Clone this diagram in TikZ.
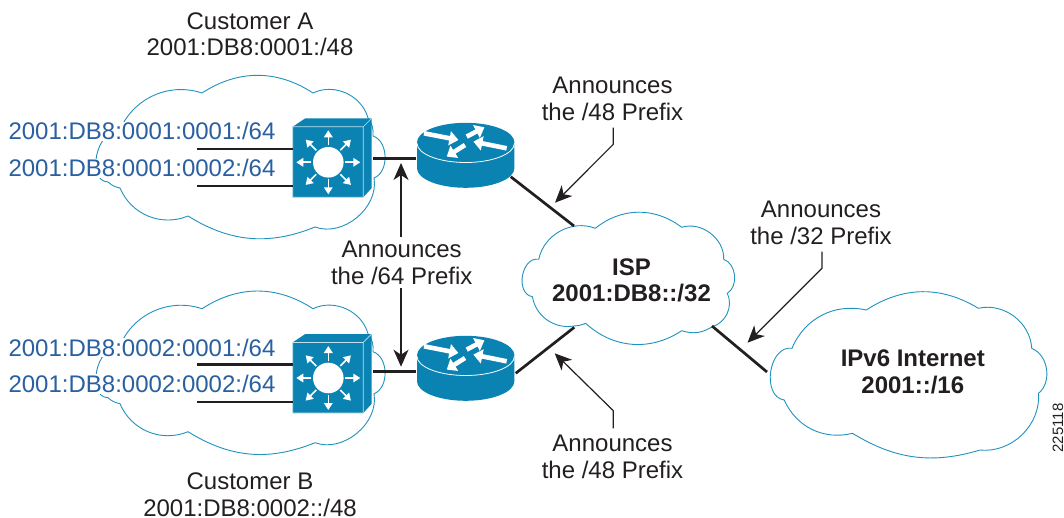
\documentclass[tikz,border=0pt]{standalone}
\usepackage{fontspec}
\setmainfont{Liberation Sans}
\usetikzlibrary{arrows.meta}
\definecolor{ciscoblue}{HTML}{0A83B3}
\definecolor{cloudline}{HTML}{1F93BE}
\definecolor{inkblack}{HTML}{231F20}
\definecolor{netblue}{HTML}{2A5FA0}
\newcommand{\cloudA}{(202,93) to[bend left=33] (313,93) to[bend left=50] (368,118) to[bend left=20] (373,136)
  to[bend left=70] (374,178) to[bend left=60] (315,227) to[bend left=27] (188,216) to[bend left=45] (120,188)
  to[bend left=15] (108,182) to[bend left=100,looseness=1.2] (118,135) to[bend left=45] (202,93) -- cycle}
\tikzset{
  x=1pt,y=-1pt,
  cloudshape/.style={draw=cloudline,fill=white,line width=0.9pt,line join=round},
  thickline/.style={draw=inkblack,line width=2.7pt},
  callout/.style={draw=inkblack,line width=1.2pt,-{Stealth[length=17pt,width=15pt,inset=5pt]}},
  label/.style={font=\fontsize{24}{26.7}\selectfont,text=inkblack,align=center,inner sep=0pt,anchor=base},
  boldlabel/.style={label,font=\fontsize{24}{26.7}\selectfont\bfseries},
  netlabel/.style={font=\fontsize{24}{28}\selectfont,text=netblue,fill=white,inner xsep=0pt,inner ysep=1pt,anchor=base},
  swarrow/.style={draw=white,line width=1.6pt,-{Triangle[length=7pt,width=8.5pt]}},
  rtarrow/.style={draw=white,line width=4.6pt,-{Triangle[length=9pt,width=14pt]}},
  switchicon/.pic={
    \fill[ciscoblue] (-35.6,-35.6) -- (-23,-44) -- (43.4,-44) -- (43.4,25.7) -- (35,35) -- (-35.6,35) -- cycle;
    \draw[white!75!ciscoblue,line width=0.7pt,line join=round] (-35.6,35) rectangle (35,-35.6) (35,-35.6) -- (43.4,-44);
    \fill[white] (0,0) circle[radius=15.3];
    \foreach \a in {0,45,...,315}{\draw[swarrow] (\a:17) -- (\a:32);}
  },
  routericon/.pic={
    \fill[ciscoblue] (-48.7,0) arc[start angle=180,end angle=360,x radius=48.7,y radius=19.5]
      -- (48.7,26) arc[start angle=0,end angle=180,x radius=48.7,y radius=19.5] -- cycle;
    \draw[white,line width=0.8pt] (-48.7,1) arc[start angle=180,end angle=0,x radius=48.7,y radius=19.2];
    \draw[rtarrow] (-41.7,-9) -- (-7.3,-2.3);
    \draw[rtarrow] (1,-5.7) -- (18.7,-15);
    \draw[rtarrow] (41,6) -- (7.7,-0.7);
    \draw[rtarrow] (-0.7,2.7) -- (-19,14.3);
  }
}
\begin{document}
\begin{tikzpicture}
\useasboundingbox (0,0) rectangle (1064,518);
% clouds
\draw[cloudshape] \cloudA;
\begin{scope}[shift={(0,215.7)}]
\draw[cloudshape] \cloudA;
\end{scope}
\draw[cloudshape] (595.3,228.3) to[bend left=38] (681.7,227.3) to[bend left=55] (723.7,259.3) to[bend left=65] (727.3,293.3)
  to[bend left=50] (712.2,326.7) to[bend left=25] (681.7,330.7) to[bend left=38] (585.6,323.3) to[bend left=10] (573.7,326)
  to[bend left=45] (532.4,296.7) to[bend left=90,looseness=1.2] (538.8,259.3) to[bend left=50] (595.3,228.3) -- cycle;
\draw[cloudshape] (866.2,310) to[bend left=32] (978.4,308.3) to[bend left=50] (1031.7,348.3) to[bend left=60] (1038.5,393.3)
  to[bend left=50] (980.2,450) to[bend left=24] (852.5,433.3) to[bend left=40] (784.2,400) to[bend left=90,looseness=1.15] (792,348.3)
  to[bend left=40] (866.2,310) -- cycle;
% network labels (masking the cloud edge)
\node[netlabel] (n1) at (142,140) {2001:DB8:0001:0001:/64};
\node[netlabel] (n2) at (142,177) {2001:DB8:0001:0002:/64};
\node[netlabel] (n3) at (142,356) {2001:DB8:0002:0001:/64};
\node[netlabel] (n4) at (142,392.7) {2001:DB8:0002:0002:/64};
% icons
\pic at (328.3,162.3) {switchicon};
\pic at (328.3,378) {switchicon};
\pic at (465.7,142.3) {routericon};
\pic at (465.7,355.3) {routericon};
% anchor points
\coordinate (a1) at (197,149);
\coordinate (a2) at (197,186);
\coordinate (sa1) at (292.7,149);
\coordinate (sa2) at (292.7,186);
\coordinate (b1) at (197,364.7);
\coordinate (b2) at (197,402);
\coordinate (sb1) at (292.7,364.7);
\coordinate (sb2) at (292.7,402);
\coordinate (swAr) at (373,158.7);
\coordinate (rtAl) at (416,158.7);
\coordinate (swBr) at (373,371.3);
\coordinate (rtBl) at (416,371.3);
\coordinate (rtAe) at (510.7,176.7);
\coordinate (ispA) at (574,226);
\coordinate (rtBe) at (515.7,373.3);
\coordinate (ispB) at (574.3,327.3);
\coordinate (ispC) at (712,326);
\coordinate (inet) at (767,372);
\draw[thickline] (a1) -- (sa1) (a2) -- (sa2) (b1) -- (sb1) (b2) -- (sb2);
\draw[thickline] (swAr) -- (rtAl) (swBr) -- (rtBl);
\draw[thickline] (rtAe) -- (ispA) (rtBe) -- (ispB) (ispC) -- (inet);
% callouts
\coordinate (c1s) at (613.3,127.7);
\coordinate (c1m) at (613.3,144.3);
\coordinate (c1t) at (555,202.7);
\coordinate (c2s) at (822,251.7);
\coordinate (c2m) at (822,268.3);
\coordinate (c2t) at (747.5,342.7);
\coordinate (c3s) at (613.3,428.3);
\coordinate (c3m) at (613.3,410.7);
\coordinate (c3t) at (554.7,353.3);
\coordinate (d1s) at (401,237);
\coordinate (d1t) at (401,163);
\coordinate (d2s) at (401,288);
\coordinate (d2t) at (401,366.7);
\draw[callout] (c1s) -- (c1m) -- (c1t);
\draw[callout] (c2s) -- (c2m) -- (c2t);
\draw[callout] (c3s) -- (c3m) -- (c3t);
\draw[callout] (d1s) -- (d1t);
\draw[callout] (d2s) -- (d2t);
% labels (y = baseline of the last line)
\node[label] (custA) at (250,56) {Customer A\\2001:DB8:0001:/48};
\node[label] (custB) at (250,516.5) {Customer B\\2001:DB8:0002::/48};
\node[label] (an1) at (612.5,120.7) {Announces\\the /48 Prefix};
\node[label] (an2) at (401.7,284) {Announces\\the /64 Prefix};
\node[label] (an3) at (821,244.4) {Announces\\the /32 Prefix};
\node[label] (an4) at (612.5,478.4) {Announces\\the /48 Prefix};
\node[boldlabel] (isp) at (631.5,301.7) {ISP\\2001:DB8::/32};
\node[boldlabel] (net) at (912.8,393.3) {IPv6 Internet\\2001::/16};
\node[font=\fontsize{15}{15}\selectfont,text=inkblack,rotate=90,anchor=base,inner sep=0pt] (fig) at (1063,428) {225118};
\end{tikzpicture}
\end{document}
